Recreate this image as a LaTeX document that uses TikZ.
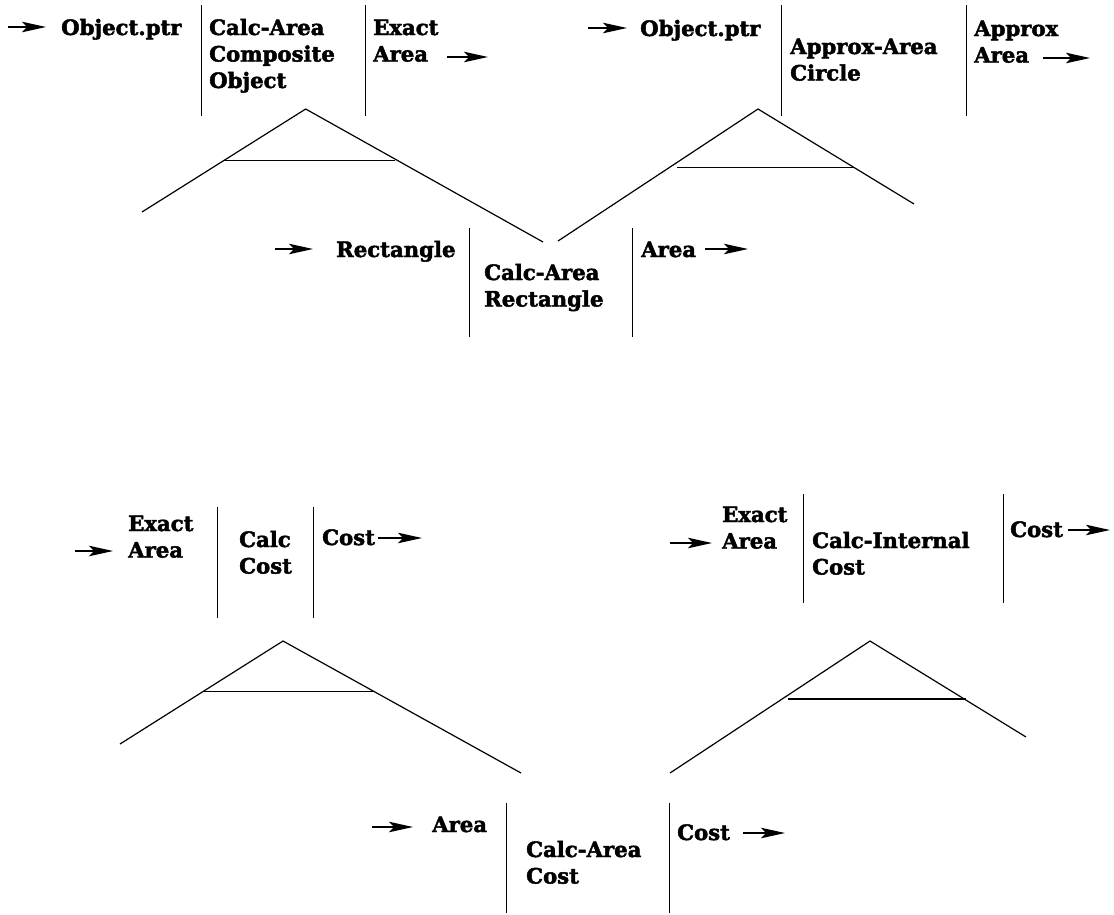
\documentclass[tikz,border=0pt]{standalone}
\usepackage{fontspec}
\setmainfont{DejaVu Serif}[BoldFeatures={FakeBold=2.2}]
\usetikzlibrary{arrows.meta}
% stacked lines whose baseline is the first line's baseline
\newcommand{\tstack}[1]{\begin{tabular}[t]{@{}l@{}}#1\end{tabular}}
\begin{document}
\begin{tikzpicture}[x=1pt,y=-1pt,
  lbl/.style={anchor=base west, inner sep=0pt, font=\fontsize{21.2}{26.5}\selectfont\bfseries},
  flow/.style={line width=1.3pt, -{Stealth[length=24pt,width=10.5pt,inset=5pt]}},
  divider/.style={line width=0.9pt},
  tree/.style={line width=1.2pt, line join=miter}]
\useasboundingbox (0,0) rectangle (1114,914);

% ---------- Calc-Area on a composite object ----------
\coordinate (a1s) at (8,27);    \coordinate (a1e) at (46,27);
\node[lbl] (g1in) at (61,35) {Object.ptr};
\node[lbl] (g1op) at (209,35) {\tstack{Calc-Area\\Composite\\Object}};
\node[lbl] (g1out) at (373,35) {\tstack{Exact\\Area}};
\coordinate (b1s) at (447,57);  \coordinate (b1e) at (488,57);
\draw[flow] (a1s) -- (a1e);
\draw[flow] (b1s) -- (b1e);
\draw[divider] (201.5,5) -- (201.5,116);
\draw[divider] (365,5) -- (365,116);

% ---------- Approx-Area on a circle ----------
\coordinate (a2s) at (588,28);  \coordinate (a2e) at (627,28);
\node[lbl] (g2in) at (640,36) {Object.ptr};
\node[lbl] (g2op) at (790,54) {\tstack{Approx-Area\\Circle}};
\node[lbl] (g2out) at (974,36) {\tstack{Approx\\Area}};
\coordinate (b2s) at (1043,58); \coordinate (b2e) at (1090,58);
\draw[flow] (a2s) -- (a2e);
\draw[flow] (b2s) -- (b2e);
\draw[divider] (781,5) -- (781,116);
\draw[divider] (966.7,5) -- (966.7,116);

% ---------- Calc-Area on a rectangle ----------
\coordinate (a3s) at (275,249); \coordinate (a3e) at (313,249);
\node[lbl] (g3in) at (336,257) {Rectangle};
\node[lbl] (g3op) at (484,280) {\tstack{Calc-Area\\Rectangle}};
\node[lbl] (g3out) at (641,257) {Area};
\coordinate (b3s) at (705,249); \coordinate (b3e) at (748,249);
\draw[flow] (a3s) -- (a3e);
\draw[flow] (b3s) -- (b3e);
\draw[divider] (469,228) -- (469,337);
\draw[divider] (632,228) -- (632,337);

% ---------- Calc cost ----------
\coordinate (a4s) at (75,551);  \coordinate (a4e) at (113,551);
\node[lbl] (g4in) at (128,531) {\tstack{Exact\\Area}};
\node[lbl] (g4op) at (239,547) {\tstack{Calc\\Cost}};
\node[lbl] (g4out) at (322,545) {Cost};
\coordinate (b4s) at (378,538); \coordinate (b4e) at (422,538);
\draw[flow] (a4s) -- (a4e);
\draw[flow] (b4s) -- (b4e);
\draw[divider] (217,507) -- (217,618);
\draw[divider] (313,507) -- (313,618);

% ---------- Calc-Internal cost ----------
\coordinate (a5s) at (670,543); \coordinate (a5e) at (712,543);
\node[lbl] (g5in) at (722,522) {\tstack{Exact\\Area}};
\node[lbl] (g5op) at (812,548) {\tstack{Calc-Internal\\Cost}};
\node[lbl] (g5out) at (1010,537) {Cost};
\coordinate (b5s) at (1068,530); \coordinate (b5e) at (1110,530);
\draw[flow] (a5s) -- (a5e);
\draw[flow] (b5s) -- (b5e);
\draw[divider] (803,494) -- (803,603);
\draw[divider] (1003,494) -- (1003,603);

% ---------- Calc-Area cost ----------
\coordinate (a6s) at (372,827); \coordinate (a6e) at (413,827);
\node[lbl] (g6in) at (432,832) {Area};
\node[lbl] (g6op) at (526,857) {\tstack{Calc-Area\\Cost}};
\node[lbl] (g6out) at (677,840) {Cost};
\coordinate (b6s) at (743,833); \coordinate (b6e) at (785,833);
\draw[flow] (a6s) -- (a6e);
\draw[flow] (b6s) -- (b6e);
\draw[divider] (506,803) -- (506,913);
\draw[divider] (669,803) -- (669,913);

% ---------- decomposition triangles ----------
\coordinate (t1a) at (305.7,109); \coordinate (t1l) at (142,212); \coordinate (t1r) at (543,242);
\draw[tree] (t1l) -- (t1a) -- (t1r);
\draw[tree] (224,160.3) -- (395,160.3);

\coordinate (t2a) at (758,109); \coordinate (t2l) at (558,241); \coordinate (t2r) at (914,204);
\draw[tree] (t2l) -- (t2a) -- (t2r);
\draw[tree] (677,167.7) -- (855,167.7);

\coordinate (t3a) at (283,641); \coordinate (t3l) at (120,744); \coordinate (t3r) at (521,773);
\draw[tree] (t3l) -- (t3a) -- (t3r);
\draw[tree] (203,691.7) -- (373,691.7);

\coordinate (t4a) at (870,641); \coordinate (t4l) at (670,773); \coordinate (t4r) at (1026,737);
\draw[tree] (t4l) -- (t4a) -- (t4r);
\draw[tree] (788,699) -- (966,699);
\end{tikzpicture}
\end{document}
